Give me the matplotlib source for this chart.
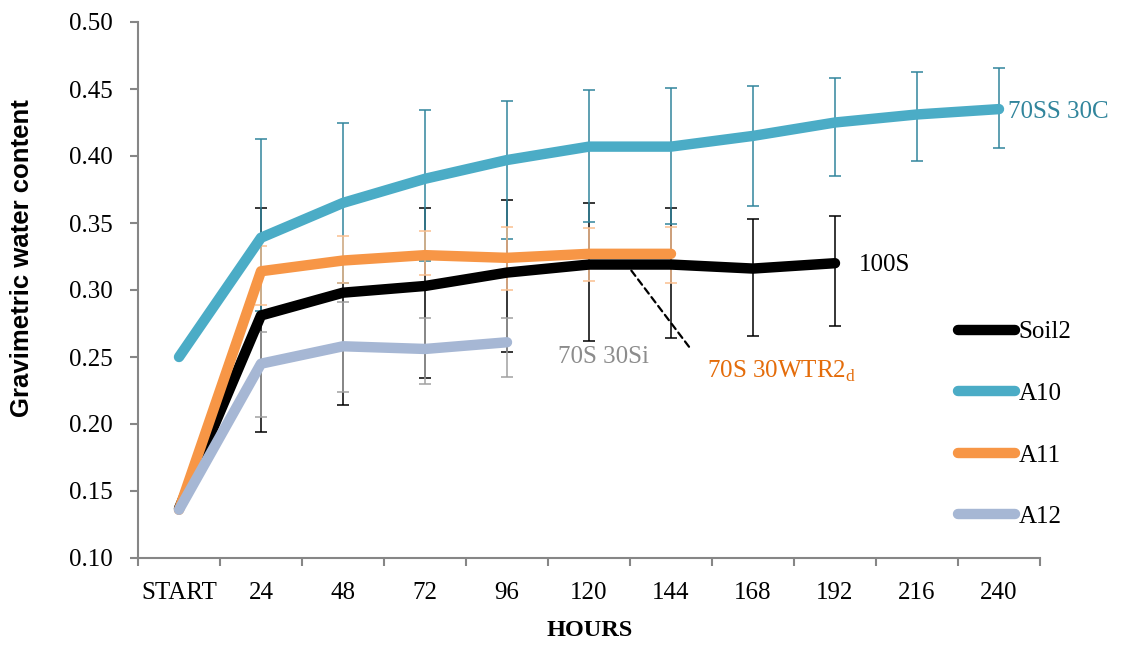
import matplotlib
matplotlib.use("Agg")
import matplotlib.pyplot as plt
import numpy as np

# ---------------- data ----------------
hours = ["START", "24", "48", "72", "96", "120", "144", "168", "192", "216", "240"]

soil2 = [0.137, 0.281, 0.298, 0.303, 0.313, 0.319, 0.319, 0.316, 0.320]
soil2_lo = [0.137, 0.194, 0.214, 0.234, 0.254, 0.262, 0.264, 0.266, 0.273]
soil2_hi = [0.137, 0.361, 0.322, 0.361, 0.367, 0.365, 0.361, 0.353, 0.355]

a10 = [0.250, 0.339, 0.365, 0.383, 0.397, 0.407, 0.407, 0.415, 0.425, 0.431, 0.435]
a10_lo = [0.250, 0.284, 0.305, 0.322, 0.338, 0.351, 0.349, 0.363, 0.385, 0.396, 0.406]
a10_hi = [0.250, 0.413, 0.425, 0.434, 0.441, 0.449, 0.451, 0.452, 0.458, 0.463, 0.466]

a11 = [0.136, 0.314, 0.322, 0.326, 0.324, 0.327, 0.327]
a11_lo = [0.136, 0.289, 0.305, 0.311, 0.300, 0.307, 0.305]
a11_hi = [0.136, 0.333, 0.340, 0.344, 0.347, 0.346, 0.347]

a12 = [0.136, 0.245, 0.258, 0.256, 0.261]
a12_lo = [0.136, 0.205, 0.224, 0.230, 0.235]
a12_hi = [0.136, 0.269, 0.291, 0.279, 0.279]

series = [
    ("Soil2", soil2, soil2_lo, soil2_hi, "#000000", "#000000"),
    ("A10", a10, a10_lo, a10_hi, "#4BACC6", "#31859C"),
    ("A11", a11, a11_lo, a11_hi, "#F79646", "#FAC090"),
    ("A12", a12, a12_lo, a12_hi, "#A6B7D4", "#A0A0A0"),
]

SERIF = ["Liberation Serif", "DejaVu Serif"]
plt.rcParams["font.family"] = SERIF
FS = 18

fig = plt.figure(figsize=(11.24, 6.46), dpi=100)
ax = fig.add_axes([138 / 1124, 1 - 558 / 646, (1040 - 138) / 1124, (558 - 22) / 646])

# error bars (behind lines)
for name, vals, lo, hi, col, ecol in series:
    x = np.arange(len(vals))
    v = np.array(vals)
    yerr = np.vstack([v - np.array(lo), np.array(hi) - v])
    ax.errorbar(x[1:], v[1:], yerr=yerr[:, 1:], fmt="none", ecolor=ecol,
                elinewidth=1.1, capsize=4.3, capthick=1.1, zorder=2)

# lines
handles = []
for name, vals, lo, hi, col, ecol in series:
    x = np.arange(len(vals))
    (ln,) = ax.plot(x, vals, color=col, lw=7.5, solid_capstyle="round",
                    solid_joinstyle="round", zorder=3, label=name)
    handles.append(ln)

ax.set_xlim(-0.5, len(hours) - 0.5)
ax.set_ylim(0.10, 0.50)
ax.set_yticks(np.arange(0.10, 0.501, 0.05))
ax.set_yticklabels([f"{t:.2f}" for t in np.arange(0.10, 0.501, 0.05)])
ax.set_xticks(np.arange(len(hours)))
ax.set_xticklabels(hours)
ax.set_xticks(np.arange(len(hours) + 1) - 0.5, minor=True)

for s in ["top", "right"]:
    ax.spines[s].set_visible(False)
for s in ["left", "bottom"]:
    ax.spines[s].set_color("#868686")
    ax.spines[s].set_linewidth(1.5)

ax.tick_params(axis="y", direction="out", length=6, width=1.5, color="#868686",
               labelsize=FS, pad=12)
ax.tick_params(axis="x", which="major", length=0, labelsize=FS, pad=17)
ax.tick_params(axis="x", which="minor", direction="out", length=6, width=1.5,
               color="#868686")

# axis titles
fig.text(22 / 1124, 1 - 258 / 646, "Gravimetric water content", rotation=90,
         ha="center", va="center", fontsize=18.5, fontweight="bold",
         family=["Liberation Sans Narrow", "Liberation Sans", "DejaVu Sans"])
fig.text(590 / 1124, 1 - 631 / 646, "HOURS", ha="center", va="center",
         fontsize=17.5, fontweight="bold")

# annotations
ax.text(10.11, 0.433, "70SS 30C", color="#31859C", fontsize=FS, va="center", ha="left")
ax.text(8.29, 0.3187, "100S", color="#000000", fontsize=FS, va="center", ha="left")
ax.text(4.62, 0.250, "70S 30Si", color="#8C8C8C", fontsize=FS, va="center", ha="left")
ax.text(6.44, 0.2395, r"70S 30WTR2$_\mathregular{d}$", color="#E46C0A", fontsize=FS,
        va="center", ha="left")
ax.annotate("", xy=(5.40, 0.3239), xytext=(6.24, 0.256),
            arrowprops=dict(arrowstyle="-", linestyle=(0, (3, 2)), color="black", lw=1.6))

leg = ax.legend(handles=handles, loc="upper left",
                bbox_to_anchor=(958 / 1124, 1 - 321 / 646), bbox_transform=fig.transFigure,
                frameon=False, fontsize=FS, handlelength=2.28, handletextpad=0.15,
                labelspacing=1.56, borderpad=0, borderaxespad=0)
for lh in leg.get_lines():
    lh.set_linewidth(7.5)
    lh.set_solid_capstyle("round")

fig.savefig("out.png", dpi=100)
